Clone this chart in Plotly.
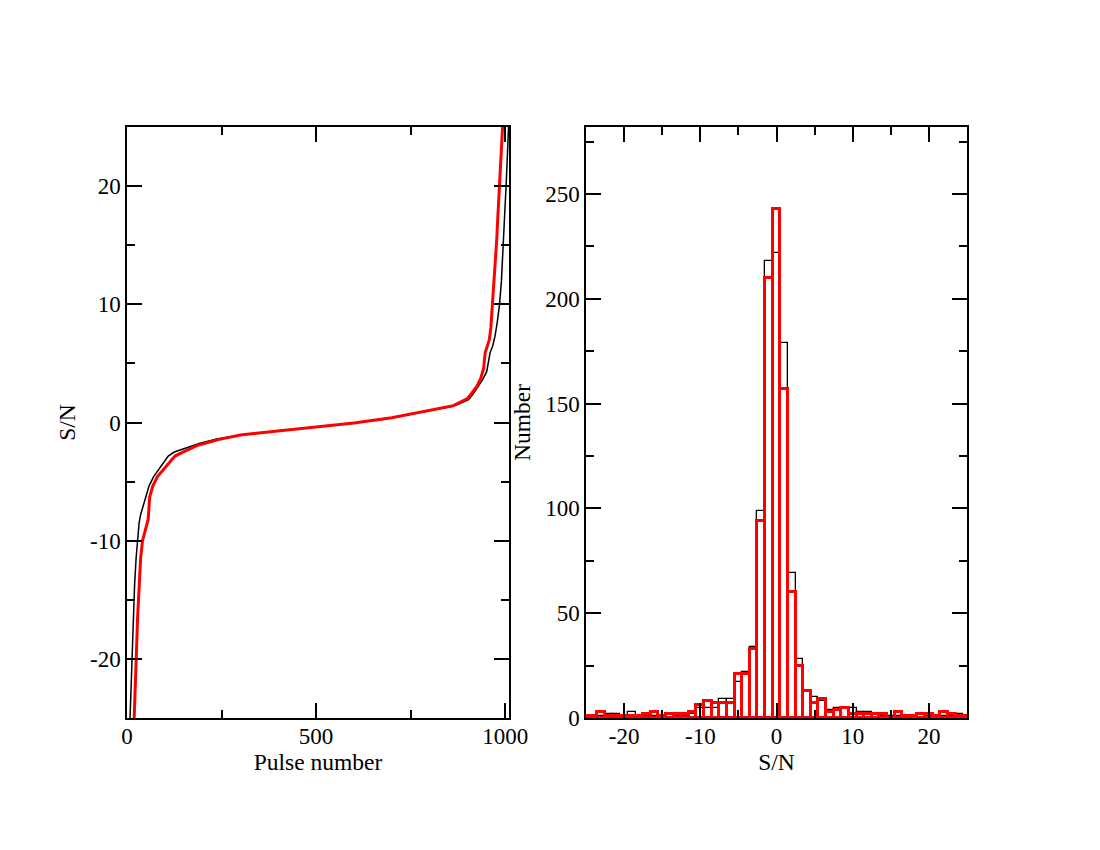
import plotly.graph_objects as go

# ---- Left panel: sorted S/N vs pulse number ----
black_pulse = [8, 10, 12, 14, 17, 20, 24, 28, 32, 36, 45, 58, 70, 83, 95, 109, 125, 145, 170, 193, 237,
               300, 400, 500, 600, 700, 775, 820, 862, 880, 903, 915, 929, 940, 951, 956, 960, 967, 973,
               979, 985, 990, 994, 997, 1000, 1003, 1006, 1009, 1010]
black_sn = [-25, -23, -21, -19.4, -16.5, -13.8, -11.5, -10, -8.5, -7.8, -6.8, -5.4, -4.6, -4.0, -3.4, -2.84,
            -2.5, -2.28, -1.95, -1.75, -1.4, -1.05, -0.7, -0.4, -0.05, 0.4, 0.87, 1.15, 1.38, 1.6, 1.94,
            2.4, 3.06, 3.6, 4.3, 5.2, 5.9, 6.5, 7.3, 8.5, 10, 12, 14.3, 16.5, 18.5, 20.5, 22.8, 25, 26]

red_pulse = [19, 21, 25, 28, 32, 36, 41, 45, 50, 56, 60, 64, 68, 80, 96, 110, 127, 145, 162, 185, 206, 241,
             300, 400, 500, 600, 700, 775, 820, 863, 880, 899, 912, 925, 935, 943, 945, 947, 952, 958, 962,
             965, 967, 969, 973, 976, 978, 980, 982, 984, 986, 989, 991, 993, 995]
red_sn = [-25, -22.5, -19.4, -16.5, -13.8, -11.5, -10, -9.5, -8.8, -8.2, -6.3, -5.7, -5.4, -4.6, -4.0, -3.4,
          -2.84, -2.55, -2.28, -1.95, -1.75, -1.45, -1.05, -0.7, -0.4, -0.05, 0.4, 0.87, 1.15, 1.43, 1.7,
          2.0, 2.5, 3.06, 3.7, 4.6, 5.3, 5.9, 6.4, 7.0, 8.0, 9.3, 10.5, 11.5, 13, 14.3, 15.7, 17.1, 18.5,
          20, 21, 22.8, 24, 25, 26]

left_x_ticks = [0, 500, 1000]
left_y_ticks = [-20, -10, 0, 10, 20]
left_y_labels = ["-20", "-10", "0", "10", "20"]

# ---- Right panel: histogram of S/N (bin width 1) ----
bins = list(range(-25, 26))
black_counts = [1, 1, 1, 2, 2, 1, 3, 1, 1, 1, 1, 0, 1, 1, 2, 5, 5, 5, 9, 9, 17, 22, 34, 99, 218,
                222, 179, 69, 28, 13, 10, 8, 4, 5, 5, 5, 3, 3, 2, 1, 1, 1, 1, 1, 2, 1, 1, 1, 1, 2, 1]
red_counts = [1, 1, 3, 1, 1, 1, 1, 1, 2, 3, 1, 2, 2, 2, 3, 6, 8, 7, 7, 7, 21, 21, 33, 94, 210,
              243, 157, 60, 25, 13, 7, 9, 3, 4, 5, 2, 2, 2, 2, 2, 0, 3, 1, 1, 2, 2, 1, 3, 2, 1, 1]

right_x_ticks = [-20, -10, 0, 10, 20]
right_x_labels = ["-20", "-10", "0", "10", "20"]
right_y_ticks = [0, 50, 100, 150, 200, 250]

FONT = "Liberation Serif"

fig = go.Figure()
fig.add_trace(go.Scatter(x=black_pulse, y=black_sn, mode="lines",
                         line=dict(color="black", width=1.5), xaxis="x", yaxis="y", showlegend=False))
fig.add_trace(go.Scatter(x=red_pulse, y=red_sn, mode="lines",
                         line=dict(color="red", width=3), xaxis="x", yaxis="y", showlegend=False))

fig.add_trace(go.Bar(x=bins, y=black_counts, width=1, marker=dict(color="rgba(0,0,0,0)",
                     line=dict(color="black", width=1.3)), xaxis="x2", yaxis="y2", showlegend=False))
fig.add_trace(go.Bar(x=bins, y=red_counts, width=1, marker=dict(color="rgba(0,0,0,0)",
                     line=dict(color="red", width=3)), xaxis="x2", yaxis="y2", showlegend=False))

W, H = 1100, 850
OFF = 8  # page body margin
def xd(a, b):
    return [(a - OFF) / W, (b - OFF) / W]
ydom = [(H - (718 - OFF)) / H, (H - (127 - OFF)) / H]

axis_common = dict(showline=True, linecolor="black", linewidth=1.5, mirror="ticks",
                   ticks="inside", ticklen=15, tickwidth=1.5, tickcolor="black",
                   showgrid=False, zeroline=False, automargin=False,
                   tickfont=dict(family=FONT, size=23, color="black"))
minor_common = dict(ticklen=8, tickwidth=1.5, tickcolor="black", ticks="inside")
title_font = dict(family=FONT, size=23.5, color="black")

fig.update_layout(
    width=W, height=H,
    margin=dict(l=0, r=0, t=0, b=0),
    paper_bgcolor="white", plot_bgcolor="white",
    barmode="overlay", bargap=0,
    xaxis=dict(domain=xd(127, 509), range=[0, 1010], tickvals=left_x_ticks,
               minor=dict(dtick=250, tick0=0, **minor_common), ticklabelstandoff=-3,
               title=dict(text="Pulse number", font=title_font, standoff=2),
               anchor="y", **axis_common),
    yaxis=dict(domain=ydom, range=[-25, 25], tickvals=left_y_ticks, ticktext=left_y_labels,
               minor=dict(dtick=5, tick0=0, **minor_common),
               title=dict(text="S/N", font=title_font, standoff=8),
               anchor="x", **axis_common),
    xaxis2=dict(domain=xd(586, 967), range=[-25, 25], tickvals=right_x_ticks, ticktext=right_x_labels,
                minor=dict(dtick=5, tick0=0, **minor_common), ticklabelstandoff=-3,
                title=dict(text="S/N", font=title_font, standoff=2),
                anchor="y2", **axis_common),
    yaxis2=dict(domain=ydom, range=[0, 282], tickvals=right_y_ticks,
                minor=dict(dtick=25, tick0=0, **minor_common),
                title=dict(text="Number", font=title_font, standoff=8),
                anchor="x2", **axis_common),
)

fig.write_html("out.html")
